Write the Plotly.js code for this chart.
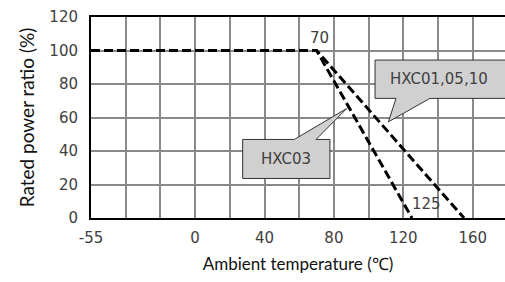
<!DOCTYPE html>
<html>
<head>
<meta charset="utf-8">
<script src="https://cdn.plot.ly/plotly-3.0.1.min.js"></script>
<style>html,body{margin:0;padding:0;background:#fff;}#chart{width:505px;height:282px;}</style>
</head>
<body>
<div id="chart"></div>
<script>
// Data (axis left edge is labelled -55)
const hxc03Temp = [-60, 70, 125];
const hxc03Ratio = [100, 100, 0];
const hxc01Temp = [-60, 70, 155];
const hxc01Ratio = [100, 100, 0];
const xTickVals = [-60, 0, 40, 80, 120, 160];
const xTickText = ['-55', '0', '40', '80', '120', '160'];
const yTickVals = [0, 20, 40, 60, 80, 100, 120];
const calloutLabels = ['HXC01,05,10', 'HXC03'];

const lineStyle = {color: '#000', width: 3, dash: '9px,4px'};
const traces = [
  {x: hxc03Temp, y: hxc03Ratio, mode: 'lines', line: lineStyle, name: 'HXC03', showlegend: false, hoverinfo: 'skip'},
  {x: hxc01Temp, y: hxc01Ratio, mode: 'lines', line: lineStyle, name: 'HXC01,05,10', showlegend: false, hoverinfo: 'skip'}
];

const tickFont = {family: 'DejaVu Sans', size: 15, color: '#404040'};
const gridCol = '#8a8a8a';

const layout = {
  width: 505, height: 282,
  margin: {l: 91, r: 0, t: 17, b: 64, pad: 0},
  paper_bgcolor: '#fff', plot_bgcolor: '#fff',
  xaxis: {
    range: [-60, 178.6], tickvals: xTickVals, ticktext: xTickText,
    ticks: 'outside', ticklen: 5, tickcolor: 'rgba(0,0,0,0)',
    showgrid: false, zeroline: false,
    minor: {tick0: 0, dtick: 20, showgrid: true, gridcolor: gridCol, gridwidth: 2, ticks: ''},
    showline: true, linecolor: '#000', linewidth: 2, mirror: true,
    tickfont: tickFont,
    title: {text: 'Ambient temperature (℃)', font: {family: 'Lato', size: 17, color: '#111'}, standoff: 12}
  },
  yaxis: {
    range: [0, 120], tickvals: yTickVals,
    ticks: 'outside', ticklen: 8, tickcolor: 'rgba(0,0,0,0)',
    showgrid: true, gridcolor: gridCol, gridwidth: 2, zeroline: false,
    showline: true, linecolor: '#000', linewidth: 2,
    tickfont: tickFont,
    title: {text: 'Rated power ratio (%)', font: {family: 'Lato', size: 19, color: '#111'}, standoff: 10}
  },
  shapes: [
    {type: 'path', xref: 'x', yref: 'y',
     path: 'M103.7,94.3 L180,94.3 L180,71.4 L135.3,71.4 L111.4,57.4 L115.8,71.4 L103.7,71.4 Z',
     fillcolor: '#d0d0d0', line: {color: '#333', width: 1}},
    {type: 'path', xref: 'x', yref: 'y',
     path: 'M27.4,46.9 L57.2,46.9 L87.4,65.4 L69.7,46.9 L77.7,46.9 L77.7,23.6 L27.4,23.6 Z',
     fillcolor: '#d0d0d0', line: {color: '#333', width: 1}}
  ],
  annotations: [
    {x: 140.8, y: 82.9, xref: 'x', yref: 'y', text: calloutLabels[0], showarrow: false, font: tickFont},
    {x: 52.5, y: 35.1, xref: 'x', yref: 'y', text: calloutLabels[1], showarrow: false, font: tickFont},
    {x: hxc03Temp[1], y: hxc03Ratio[1], xref: 'x', yref: 'y', text: String(hxc03Temp[1]), showarrow: false,
     font: tickFont, xanchor: 'center', yanchor: 'bottom', xshift: 3, yshift: 2},
    {x: hxc03Temp[2], y: hxc03Ratio[2], xref: 'x', yref: 'y', text: String(hxc03Temp[2]), showarrow: false,
     font: tickFont, xanchor: 'left', yanchor: 'bottom', xshift: -2, yshift: 3}
  ]
};

Plotly.newPlot('chart', traces, layout, {staticPlot: true, displayModeBar: false});
</script>
</body>
</html>
